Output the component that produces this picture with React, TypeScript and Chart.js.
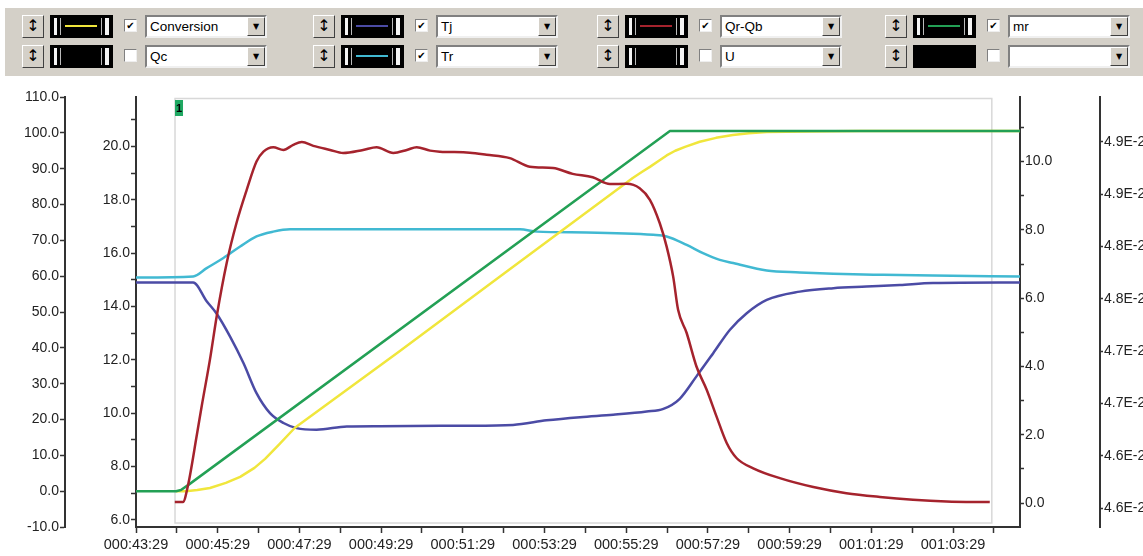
import React, { useEffect, useRef } from 'react';
import { Chart, registerables } from 'chart.js';
Chart.register(...registerables);

// ---------- axes ----------
const xMin = 0;
const xMax = 21.64; // minutes after 000:43:29
const xTickValues = [0, 1, 2, 3, 4, 5, 6, 7, 8, 9, 10, 11, 12, 13, 14, 15, 16, 17, 18, 19, 20, 21];
const xTickLabels = ['000:43:29', '000:45:29', '000:47:29', '000:49:29', '000:51:29', '000:53:29', '000:55:29', '000:57:29', '000:59:29', '001:01:29', '001:03:29'];

const convTicks = [-10, 0, 10, 20, 30, 40, 50, 60, 70, 80, 90, 100, 110];
const tempTicks = [6, 7, 8, 9, 10, 11, 12, 13, 14, 15, 16, 17, 18, 19, 20, 21];
const qTicks = [0, 1, 2, 3, 4, 5, 6, 7, 8, 9, 10, 11];
const mrAxisTicks = [0, 1, 2, 3, 4, 5, 6, 7];
const mrAxisTickLabels = ['4.6E-2', '4.6E-2', '4.7E-2', '4.7E-2', '4.8E-2', '4.8E-2', '4.9E-2', '4.9E-2'];

// ---------- series ----------
const mrTime = [0, 0.98, 1.1, 1.3, 13.07, 21.64];
const mrValues = [0, 0, 0.3, 1.9, 100.5, 100.5];

const conversionTime = [0.98, 1.22, 1.5, 1.81, 2.2, 2.55, 2.9, 3.16, 3.5, 3.89, 6.46, 8.91, 12.16, 12.4, 12.58, 12.8, 12.99, 13.2, 13.44, 13.8, 14.2, 14.61, 15.0, 15.44, 16.42, 17.72, 21.64];
const conversionValues = [0, 0, 0.3, 0.9, 2.3, 4.0, 6.5, 9.0, 13.0, 17.7, 39.1, 59.9, 87.4, 89.2, 90.5, 92.2, 93.7, 95.0, 96.1, 97.5, 98.6, 99.4, 99.9, 100.2, 100.4, 100.5, 100.5];

const qrqbTime = [0.95, 1.15, 1.27, 1.49, 1.61, 1.81, 1.98, 2.22, 2.46, 2.71, 2.95, 3.12, 3.36, 3.61, 3.85, 4.06, 4.34, 4.75, 5.07, 5.56, 5.89, 6.3, 6.63, 6.87, 7.2, 7.44, 8.17, 8.58, 9.15, 9.64, 10.21, 10.69, 11.18, 11.6, 12.01, 12.33, 12.58, 12.82, 12.99, 13.15, 13.27, 13.48, 13.72, 13.97, 14.21, 14.46, 14.7, 15.11, 15.76, 16.58, 17.39, 18.21, 19.02, 19.84, 20.9];
const qrqbValues = [0.03, 0.03, 0.5, 2.0, 2.85, 4.2, 5.5, 7.03, 8.2, 9.17, 10.0, 10.29, 10.42, 10.34, 10.49, 10.57, 10.46, 10.34, 10.25, 10.34, 10.42, 10.25, 10.34, 10.42, 10.32, 10.29, 10.26, 10.2, 10.1, 9.85, 9.81, 9.64, 9.54, 9.34, 9.35, 9.22, 8.88, 8.2, 7.51, 6.63, 5.66, 4.98, 4.0, 3.32, 2.54, 1.76, 1.32, 1.02, 0.73, 0.47, 0.29, 0.18, 0.1, 0.05, 0.03];

const tjTime = [0, 1.4, 1.73, 1.98, 2.3, 2.63, 2.95, 3.28, 3.61, 3.93, 4.42, 5.16, 5.97, 8.0, 9.23, 10.05, 10.87, 11.68, 12.5, 12.91, 13.31, 13.72, 14.13, 14.54, 14.95, 15.44, 16.25, 17.07, 17.88, 18.7, 19.51, 21.64];
const tjValues = [14.9, 14.9, 14.2, 13.72, 12.88, 11.88, 10.75, 10.0, 9.63, 9.44, 9.38, 9.5, 9.51, 9.53, 9.56, 9.73, 9.85, 9.94, 10.06, 10.16, 10.54, 11.38, 12.25, 13.13, 13.75, 14.25, 14.56, 14.69, 14.75, 14.81, 14.88, 14.9];

const trTime = [0, 1.4, 1.73, 2.14, 2.55, 2.95, 3.36, 3.77, 9.4, 9.81, 11.03, 12.66, 12.99, 13.48, 13.88, 14.29, 14.62, 15.44, 16.25, 17.07, 18.29, 19.51, 21.64];
const trValues = [15.09, 15.13, 15.44, 15.82, 16.25, 16.63, 16.81, 16.9, 16.9, 16.81, 16.78, 16.69, 16.63, 16.31, 16.0, 15.75, 15.63, 15.35, 15.28, 15.23, 15.19, 15.16, 15.13];

// cursor region "1"
const regionStart = 0.955;
const regionEnd = 20.95;
const regionLabel = '1';

const FONT = '"Liberation Sans", Arial, sans-serif';
const AXIS = '#333';

const pts = (t: number[], v: number[]) => t.map((x, i) => ({ x, y: v[i] }));

const regionPlugin = {
  id: 'region',
  beforeDatasetsDraw(chart: any) {
    const { ctx, chartArea, scales } = chart;
    const x0 = scales.x.getPixelForValue(regionStart);
    const x1 = scales.x.getPixelForValue(regionEnd);
    ctx.save();
    ctx.strokeStyle = '#d8d8d8';
    ctx.lineWidth = 1.5;
    ctx.strokeRect(x0, chartArea.top + 1.5, x1 - x0, chartArea.bottom - chartArea.top - 5.5);
    ctx.fillStyle = '#1fa862';
    ctx.fillRect(x0, chartArea.top + 3, 8, 16);
    ctx.fillStyle = '#000';
    ctx.font = 'bold 11px ' + FONT;
    ctx.textAlign = 'center';
    ctx.textBaseline = 'middle';
    ctx.fillText(regionLabel, x0 + 4, chartArea.top + 11.5);
    ctx.restore();
  },
};

function yAxis(position: string, weight: number, width: number, ticks: number[], min: number, max: number, tickLength: number, label: (v: number) => string) {
  return {
    type: 'linear',
    position,
    weight,
    min,
    max,
    bounds: 'data',
    afterBuildTicks: (s: any) => { s.ticks = ticks.map((value) => ({ value })); },
    afterFit: (s: any) => { s.width = width; },
    grid: { display: true, drawOnChartArea: false, drawTicks: true, tickLength, tickColor: AXIS, tickWidth: 1.5 },
    border: { display: true, color: AXIS, width: 2 },
    ticks: { autoSkip: false, padding: 1, color: '#222', font: { family: FONT, size: 14 }, callback: (v: any) => label(Number(v)) },
  };
}

const arrowBtn: React.CSSProperties = {
  position: 'absolute', width: 22, height: 23, boxSizing: 'border-box', background: '#d4d0c8',
  borderTop: '1px solid #fff', borderLeft: '1px solid #fff', borderRight: '1px solid #404040', borderBottom: '1px solid #404040',
  fontFamily: '"DejaVu Sans", sans-serif', fontSize: 16, lineHeight: '20px', textAlign: 'center', color: '#000',
};

const toolbarGroups = [
  { left: 22, rows: [{ color: '#f0e63c', checked: true, label: 'Conversion', bars: true }, { color: '', checked: false, label: 'Qc', bars: true }] },
  { left: 313, rows: [{ color: '#4b4ba5', checked: true, label: 'Tj', bars: true }, { color: '#41b9d2', checked: true, label: 'Tr', bars: true }] },
  { left: 597, rows: [{ color: '#a5232d', checked: true, label: 'Qr-Qb', bars: true }, { color: '', checked: false, label: 'U', bars: true }] },
  { left: 885, rows: [{ color: '#23a055', checked: true, label: 'mr', bars: true }, { color: '', checked: false, label: '', bars: false }] },
];
const rowTops = [15, 45];

function Toolbar() {
  const items: React.ReactNode[] = [];
  toolbarGroups.forEach((g, gi) => {
    g.rows.forEach((r, ri) => {
      const top = rowTops[ri];
      const L = g.left;
      const k = gi + '-' + ri;
      items.push(<div key={'a' + k} style={{ ...arrowBtn, left: L, top }}>↕</div>);
      items.push(
        <div key={'s' + k} style={{ position: 'absolute', left: L + 28, top: top, width: 63, height: 23, background: '#000' }}>
          {r.bars && <div style={{ position: 'absolute', left: 4, top: 3, width: 3, height: 17, background: '#f4f4f4' }} />}
          {r.bars && <div style={{ position: 'absolute', left: 10, top: 3, width: 1, height: 17, background: '#bbb' }} />}
          {r.bars && <div style={{ position: 'absolute', left: 51, top: 3, width: 1, height: 17, background: '#bbb' }} />}
          {r.bars && <div style={{ position: 'absolute', left: 55, top: 3, width: 4, height: 17, background: '#f4f4f4' }} />}
          {r.color && <div style={{ position: 'absolute', left: 15, top: 10, width: 32, height: 2, background: r.color }} />}
        </div>
      );
      items.push(
        <div key={'c' + k} style={{
          position: 'absolute', left: L + 102, top: top + 4, width: 13, height: 13, boxSizing: 'border-box', background: '#fff',
          borderTop: '1px solid #808080', borderLeft: '1px solid #808080', borderRight: '1px solid #eee', borderBottom: '1px solid #eee',
          fontFamily: '"DejaVu Sans", sans-serif', fontSize: 10, lineHeight: '11px', textAlign: 'center', color: '#000', fontWeight: 'bold',
        }}>{r.checked ? '✔' : ''}</div>
      );
      items.push(
        <div key={'d' + k} style={{
          position: 'absolute', left: L + 123, top, width: 122, height: 23, boxSizing: 'border-box', background: '#fff',
          borderTop: '2px solid #808080', borderLeft: '2px solid #808080', borderRight: '2px solid #f0f0f0', borderBottom: '2px solid #f0f0f0',
        }}>
          <div style={{ position: 'absolute', left: 3, top: 1, fontFamily: FONT, fontSize: 13.5, lineHeight: '17px', color: '#000' }}>{r.label}</div>
          <div style={{
            position: 'absolute', right: 0, top: 0, width: 18, height: 19, boxSizing: 'border-box', background: '#d4d0c8',
            borderTop: '1px solid #fff', borderLeft: '1px solid #fff', borderRight: '1px solid #404040', borderBottom: '1px solid #404040',
            fontSize: 8, lineHeight: '17px', textAlign: 'center', fontFamily: '"DejaVu Sans", sans-serif', color: '#000',
          }}>▼</div>
        </div>
      );
    });
  });
  return (
    <div style={{ position: 'absolute', left: 5, top: 8, width: 1138, height: 68, background: '#d4d0c8' }}>
      <div style={{ position: 'absolute', left: -5, top: -8, width: 1143, height: 76 }}>{items}</div>
    </div>
  );
}

export default function App() {
  const ref = useRef<HTMLCanvasElement>(null);
  useEffect(() => {
    const smooth = { cubicInterpolationMode: 'monotone' as const };
    const straight = { tension: 0 };
    const chart = new Chart(ref.current as HTMLCanvasElement, {
      type: 'line',
      data: {
        datasets: [
          { label: 'Qr-Qb', data: pts(qrqbTime, qrqbValues), yAxisID: 'yQ', borderColor: '#a5232d', ...smooth },
          { label: 'mr', data: pts(mrTime, mrValues), yAxisID: 'yConv', borderColor: '#23a055', ...straight },
          { label: 'Conversion', data: pts(conversionTime, conversionValues), yAxisID: 'yConv', borderColor: '#f0e63c', ...straight },
          { label: 'Tj', data: pts(tjTime, tjValues), yAxisID: 'yTemp', borderColor: '#4b4ba5', ...smooth },
          { label: 'Tr', data: pts(trTime, trValues), yAxisID: 'yTemp', borderColor: '#41b9d2', ...smooth },
        ].map((d) => ({ ...d, borderWidth: 2.5, pointRadius: 0, fill: false, borderJoinStyle: 'round' as const })),
      },
      options: {
        animation: false,
        responsive: false,
        devicePixelRatio: 1,
        layout: { padding: { top: 97, left: 0, right: 0, bottom: 0 } },
        plugins: { legend: { display: false }, tooltip: { enabled: false } },
        scales: {
          x: {
            type: 'linear',
            position: 'bottom',
            min: xMin,
            max: xMax,
            bounds: 'data',
            afterBuildTicks: (s: any) => { s.ticks = xTickValues.map((value) => ({ value })); },
            afterFit: (s: any) => { s.height = 29; },
            grid: { display: true, drawOnChartArea: false, drawTicks: true, tickLength: 6, tickColor: AXIS, tickWidth: 1.5 },
            border: { display: true, color: AXIS, width: 2 },
            ticks: {
              autoSkip: false, maxRotation: 0, minRotation: 0, padding: 3, color: '#222', font: { family: FONT, size: 14.5 },
              callback: (v: any) => (Number(v) % 2 === 0 ? xTickLabels[Number(v) / 2] : ''),
            },
          },
          yConv: yAxis('left', 2, 65, convTicks, -10, 110, 5, (v) => v.toFixed(1)),
          yTemp: yAxis('left', 1, 71, tempTicks, 5.73, 21.86, 5, (v) => (v % 2 === 0 ? v.toFixed(1) : '')),
          yQ: yAxis('right', 1, 80, qTicks, -0.7, 11.89, 4, (v) => (v % 2 === 0 ? v.toFixed(1) : '')),
          yMr: yAxis('right', 2, 43, mrAxisTicks, -0.357, 7.854, 3, (v) => mrAxisTickLabels[v] ?? ''),
        } as any,
      },
      plugins: [regionPlugin],
    } as any);
    return () => chart.destroy();
  }, []);
  return (
    <div style={{ position: 'fixed', left: 0, top: 0, width: 1143, height: 556, background: '#fff', overflow: 'hidden' }}>
      <canvas ref={ref} width={1143} height={556} style={{ position: 'absolute', left: 0, top: 0, width: 1143, height: 556 }} />
      <Toolbar />
    </div>
  );
}
